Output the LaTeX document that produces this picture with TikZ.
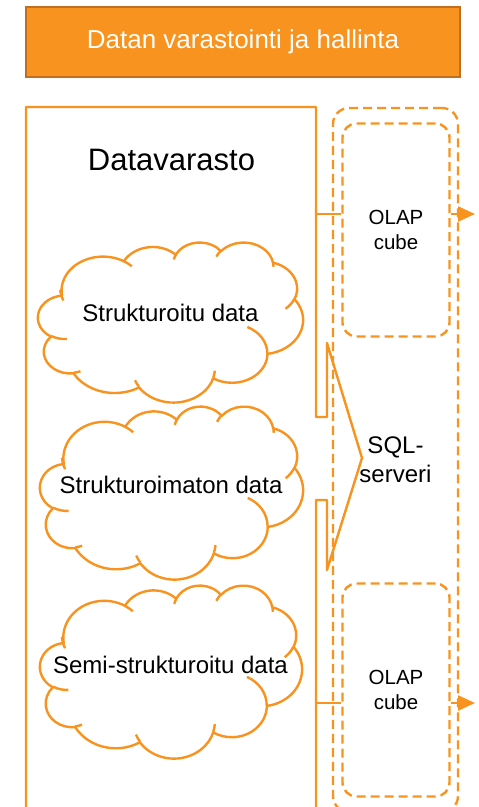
\documentclass[tikz,border=0pt]{standalone}
\usepackage{fontspec}
\setmainfont{Liberation Sans}
\usetikzlibrary{arrows.meta}

\definecolor{accent}{RGB}{247,147,30}
\definecolor{accentedge}{RGB}{192,110,34}

% Elliptical arc given DrawingML style: radii, start direction and sweep (degrees).
% The direction angles are turned into the parametric angles that TikZ expects.
\newcommand\ooarc[4]{arc[x radius=#1pt, y radius=#2pt,%
  start angle={atan2((#1)*sin(#3),(#2)*cos(#3))},%
  delta angle={mod(atan2((#1)*sin((#3)+(#4)),(#2)*cos((#3)+(#4)))-atan2((#1)*sin(#3),(#2)*cos(#3))+720,360)}]}

% Cloud outline on a 432 x 432 grid, with its small inner creases
\newcommand\cloudoutline{%
  \draw[cloudline] (39.00,143.70)
    \ooarc{67.53}{91.90}{-190.487}{123.781}
    \ooarc{53.33}{72.67}{-144.102}{89.945}
    \ooarc{43.65}{59.45}{-145.808}{99.723}
    \ooarc{48.57}{65.95}{-130.986}{117.242}
    \ooarc{53.33}{72.73}{-78.709}{109.027}
    \ooarc{67.75}{92.20}{-46.267}{130.269}
    \ooarc{57.85}{78.67}{0.625}{114.033}
    \ooarc{67.52}{92.15}{22.452}{115.173}
    \ooarc{77.20}{105.43}{66.243}{75.711}
    \ooarc{43.60}{59.18}{-274.942}{146.736}
    \ooarc{43.45}{59.45}{-246.829}{152.519}
    -- cycle;
  \draw[cloudline]
    (46.93,261.77) \ooarc{43.45}{59.45}{86.742}{26.430}
    (69.28,348.99) \ooarc{43.60}{59.18}{73.610}{11.447}
    (164.78,390.90) \ooarc{67.52}{92.15}{137.624}{14.081}
    (288.27,347.51) \ooarc{67.52}{92.15}{6.453}{15.998}
    (341.29,229.54) \ooarc{57.85}{78.67}{-70.292}{70.917}
    (417.98,153.54) \ooarc{53.33}{72.73}{30.318}{27.752}
    (383.24,54.26) \ooarc{48.57}{65.95}{-13.744}{14.859}
    (290.78,39.52) \ooarc{48.57}{65.95}{-149.181}{18.195}
    (221.41,47.20) \ooarc{43.65}{59.45}{-163.494}{17.686}
    (140.00,51.92) \ooarc{67.53}{91.90}{-66.707}{12.319}
    (41.27,157.89) \ooarc{67.53}{91.90}{150.000}{23.771};
}

\tikzset{
  link/.style={draw=accent, line width=2.4pt},
  cloudline/.style={draw=accent, line width=2.4pt, line join=round},
  dashline/.style={draw=accent, line width=2.4pt, dash pattern=on 9pt off 5pt},
  titlebox/.style={fill=accent, draw=accentedge, line width=1.5pt, text=white,
    font=\fontsize{26}{30}\selectfont, inner sep=0pt},
  cubebox/.style={dashline, rounded corners=14pt, minimum width=107pt,
    minimum height=213pt, align=center, inner sep=0pt,
    font=\fontsize{20.5}{25}\selectfont},
  serverbox/.style={dashline, rounded corners=16pt, minimum width=125pt,
    minimum height=704pt, align=center, inner sep=0pt,
    font=\fontsize{24}{29}\selectfont},
  cloudtext/.style={font=\fontsize{24}{28}\selectfont, inner sep=0pt},
  outarrow/.style={link, -{Triangle[length=17pt,width=15pt]}},
}

\begin{document}
\begin{tikzpicture}[x=1pt, y=-1pt]
  \useasboundingbox (0,0) rectangle (479,807);
  \clip (0,0) rectangle (479,807);

  % heading bar
  \node[titlebox, minimum width=434pt, minimum height=70pt] (title) at (243,42)
    {Datan varastointi ja hallinta};

  % warehouse outline with its pointer into the server
  \draw[link, line join=round] (26,820) -- (26,107) -- (316,107) -- (316,417)
    -- (327,417) -- (327,343) -- (362,458) -- (327,570) -- (327,500)
    -- (316,500) -- (316,820);
  \node[font=\fontsize{31}{36}\selectfont, inner sep=0pt] (dv) at (171.5,160) {Datavarasto};

  % data clouds
  \begin{scope}[x=1pt, y=1pt, xshift=38pt, yshift=-242pt, xscale=265/432, yscale=-160/432]
    \cloudoutline
  \end{scope}
  \begin{scope}[x=1pt, y=1pt, xshift=40pt, yshift=-406pt, xscale=263/432, yscale=-173/432]
    \cloudoutline
  \end{scope}
  \begin{scope}[x=1pt, y=1pt, xshift=40pt, yshift=-585pt, xscale=262/432, yscale=-173/432]
    \cloudoutline
  \end{scope}
  \node[cloudtext] (c1) at (170.5,313) {Strukturoitu data};
  \node[cloudtext] (c2) at (171,485) {Strukturoimaton data};
  \node[cloudtext] (c3) at (170.5,665) {Semi-strukturoitu data};

  % server and cubes
  \node[serverbox] (sql) at (395.5,460) {SQL-\\serveri};
  \node[cubebox] (cube1) at (396,230) {OLAP\\cube};
  \node[cubebox] (cube2) at (396,690) {OLAP\\cube};

  % connectors
  \coordinate (dvA) at (316,214);
  \coordinate (dvB) at (316,703);
  \coordinate (outA) at (475,214);
  \coordinate (outB) at (475,703);
  \draw[link] (dvA) -- (cube1.west |- dvA);
  \draw[link] (dvB) -- (cube2.west |- dvB);
  \draw[outarrow] (cube1.east |- outA) -- (outA);
  \draw[outarrow] (cube2.east |- outB) -- (outB);
\end{tikzpicture}
\end{document}
